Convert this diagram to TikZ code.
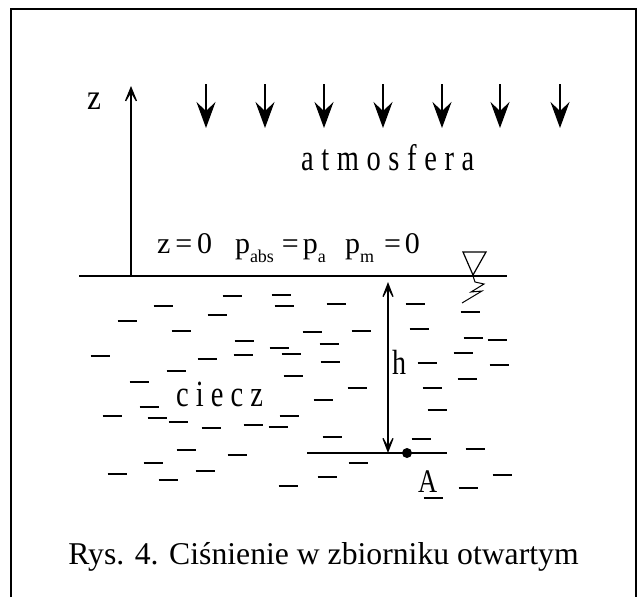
\documentclass[tikz,border=0pt]{standalone}
\usepackage{fontspec}
\setmainfont{Liberation Serif}
\usepackage{graphicx}
\usetikzlibrary{arrows.meta}
\newcommand\lsub[1]{\raisebox{-9pt}{\fontsize{18}{18}\selectfont #1}}
\begin{document}
\begin{tikzpicture}[x=1pt,y=-1pt,
  lbl/.style={inner sep=0pt, outer sep=0pt, anchor=base west},
  thinline/.style={line width=1.2pt},
  dashmark/.style={line width=1.5pt},
  barbtip/.style={-{Stealth[length=22pt,width=18pt,inset=15pt]}},
  filledtip/.style={-{Stealth[length=26pt,width=19pt,inset=9pt]}},
  hdouble/.style={{Stealth[length=22pt,width=17pt,inset=15pt]}-{Stealth[length=22pt,width=17pt,inset=15pt]}}
]
\useasboundingbox (0,0) rectangle (639,597);
% frame
\draw[line width=2pt] (11,597) -- (11,9) -- (635.5,9) -- (635.5,597);

% z axis
\coordinate (zbase) at (131,276);
\coordinate (ztop) at (131,86);
\draw[thinline, barbtip] (zbase) -- (ztop);
\node[lbl] (zlab) at (87,109) {\fontsize{36}{36}\selectfont\scalebox{0.87}[1]{z}};

% atmospheric pressure arrows
\foreach \x [count=\i] in {206,265,324,383,442,500,560} {
  \coordinate (at\i) at (\x,84);
  \coordinate (ab\i) at (\x,128);
  \draw[thinline, filledtip] (at\i) -- (ab\i);
}
\node[lbl] (atm) at (301,170) {\fontsize{37}{37}\selectfont\scalebox{0.77}[1]{\makebox[225pt][s]{a\hfill t\hfill m\hfill o\hfill s\hfill f\hfill e\hfill r\hfill a}}};

% equation line
\node[lbl] (eqa) at (157,253) {\fontsize{30}{30}\selectfont z\hspace{5pt}=\hspace{5pt}0};
\node[lbl] (eqb) at (235,253) {\fontsize{30}{30}\selectfont p\lsub{abs}\hspace{8pt}=\hspace{4pt}p\lsub{a}};
\node[lbl] (eqc) at (345,253) {\fontsize{30}{30}\selectfont p\lsub{m}\hspace{10pt}=\hspace{4pt}0};

% free surface
\coordinate (sl) at (79,276);
\coordinate (sr) at (507,276);
\draw[line width=2.6pt] (sl) -- (sr);
% surface symbol
\draw[thinline, line join=miter] (463,252) -- (486,252) -- (473,275) -- cycle;
\draw[line width=1pt] (473,276) -- (475,282) -- (484,284) -- (471,292) -- (482,291) -- (462,303);

% liquid dashes
\foreach \x/\y in {232/296,281/295,284/306,163/306,217/315,127/321,181/331,244/341,279/348,291/354,100/356,207/359,243/355,176/371,293/376,139/382,149/407,112/416,157/418,178/422,211/428,253/425,278/427,289/416,186/450,237/455,153/463,117/474,205/471,168/480,288/486,336/304,415/304,470/312,312/332,361/331,419/329,329/344,330/362,427/363,473/338,497/340,463/353,499/365,467/379,357/388,432/388,323/400,437/410,332/437,421/439,475/449,358/463,327/477,502/475,468/488,433/498}
  \draw[dashmark] (\x-9.5,\y) -- (\x+9.5,\y);

\node[lbl] (liq) at (176,406) {\fontsize{37}{37}\selectfont\scalebox{0.77}[1]{\makebox[113pt][s]{c\hfill i\hfill e\hfill c\hfill z}}};

% depth h
\coordinate (htop) at (388,282);
\coordinate (hbot) at (388,453);
\draw[thinline, hdouble] (htop) -- (hbot);
\node[lbl] (hlab) at (392,374) {\fontsize{35}{35}\selectfont\scalebox{0.8}[1]{h}};

% point A level
\coordinate (al) at (307,453);
\coordinate (ar) at (447,453);
\draw[line width=1.3pt] (al) -- (ar);
\fill (407,453) circle (5);
\node[lbl] (Alab) at (418,492) {\fontsize{33}{33}\selectfont\scalebox{0.8}[1]{A}};

% caption
\node[inner sep=0pt, anchor=base] (cap) at (323.5,564) {\fontsize{31.7}{34}\selectfont Rys. 4. Ciśnienie w zbiorniku otwartym};
\end{tikzpicture}
\end{document}
